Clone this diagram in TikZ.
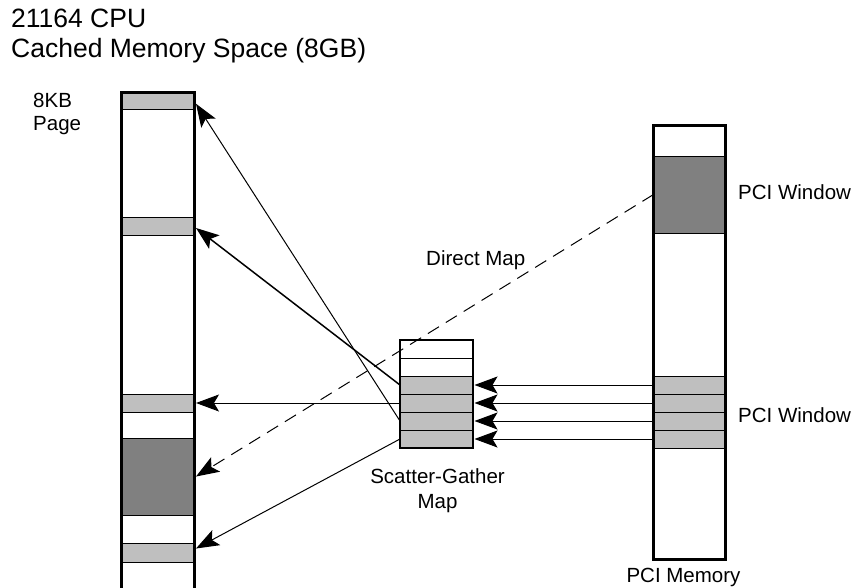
\documentclass[tikz,border=0pt]{standalone}
\usepackage{fontspec}
\setmainfont{Liberation Sans}
\usetikzlibrary{arrows.meta,calc}
\definecolor{lightslot}{gray}{0.75}
\definecolor{darkslot}{gray}{0.5}
\begin{document}
\begin{tikzpicture}[x=1pt,y=-1pt,
  slot/.style={draw=black, line width=0.9pt, fill=lightslot, minimum width=73pt,
    inner sep=0pt, outer sep=0pt, anchor=north west},
  darkblock/.style={slot, fill=darkslot},
  whiterow/.style={slot, fill=white},
  colarea/.style={inner sep=0pt, outer sep=0pt, anchor=north west},
  colline/.style={line width=3pt, line join=miter, line cap=butt},
  sgrow/.style={slot, minimum height=18pt},
  arr/.style={line width=1pt, -{Stealth[length=23pt,width=17pt,inset=5pt]}},
  lbl/.style={font=\fontsize{20.5}{24}\selectfont, inner sep=0pt, anchor=base west},
  lblc/.style={font=\fontsize{20.5}{24}\selectfont, inner sep=0pt, anchor=base},
  ttl/.style={font=\fontsize{26.5}{30}\selectfont, inner sep=0pt, anchor=base west}
]
\useasboundingbox (0,0) rectangle (858,588);
\clip (0,0) rectangle (858,588);

% titles
\node[ttl] (t1) at (11,28) {21164 CPU};
\node[ttl] (t2) at (11,58) {Cached Memory Space (8GB)};
\node[lbl] (kb1) at (33,108) {8KB};
\node[lbl] (kb2) at (33,131) {Page};

% left column (CPU memory)
\node[colarea, minimum width=73pt, minimum height=525pt] (cpu) at (121.5,92.5) {};
\node[slot, minimum height=16.5pt] (s1) at (121.5,92.5) {};
\node[slot, minimum height=18pt] (s2) at (121.5,217) {};
\node[slot, minimum height=18pt] (s3) at (121.5,394) {};
\node[darkblock, minimum height=77pt] (dk) at (121.5,438) {};
\node[slot, minimum height=19pt] (s5) at (121.5,543) {};
\draw[colline] (cpu.south west) |- (cpu.north east) -- (cpu.south east);

% right column (PCI memory)
\node[colarea, minimum width=71.5pt, minimum height=434pt] (pci) at (653.5,125.5) {};
\node[darkblock, minimum width=71.5pt, minimum height=77pt] (pw) at (653.5,156) {};
\node[slot, minimum width=71.5pt, minimum height=18pt] (p1) at (653.5,376) {};
\node[slot, minimum width=71.5pt, minimum height=18pt] (p2) at (653.5,394) {};
\node[slot, minimum width=71.5pt, minimum height=18pt] (p3) at (653.5,412) {};
\node[slot, minimum width=71.5pt, minimum height=18pt] (p4) at (653.5,430) {};
\draw[colline] (pci.north west) rectangle (pci.south east);

\node[lbl] (pwl1) at (738,199) {PCI Window};
\node[lbl] (pwl2) at (738,422) {PCI Window};
\node[lblc] (pml) at (683.5,582) {PCI Memory};

% scatter-gather map
\node[whiterow] (r1) at (400,340) [minimum height=18pt] {};
\node[whiterow] (r2) at (400,358) [minimum height=18pt] {};
\node[sgrow] (r3) at (400,376) {};
\node[sgrow] (r4) at (400,394) {};
\node[sgrow] (r5) at (400,412) {};
\node[sgrow] (r6) at (400,430) {};
\node[colarea, minimum width=73pt, minimum height=108pt] (sg) at (400,340) {};
\draw[line width=2.5pt, line join=miter] (sg.north west) rectangle (sg.south east);

\node[lblc] (sgl1) at (437.5,483) {Scatter-Gather};
\node[lblc] (sgl2) at (437.5,508) {Map};
\node[lbl] (dml) at (426,265) {Direct Map};

% connectors into the CPU space
\draw[arr] (r5.west) -- ($(s1.east)+(1.5,3)$);
\draw[arr, line width=1.5pt] (r3.west) -- ($(s2.east)+(1.5,2)$);
\draw[arr] (r4.west) -- ($(s3.east)+(1.5,0)$);
\draw[arr, dash pattern=on 13pt off 8pt] (pw.west) -- ($(dk.east)+(1.5,0)$);
\draw[arr] (r6.west) -- ($(s5.east)+(1.5,-4)$);

% connectors from PCI window into the map
\draw[arr] (p1.west) -- ($(r3.east)+(1.5,0)$);
\draw[arr] (p2.west) -- ($(r4.east)+(1.5,0)$);
\draw[arr] (p3.west) -- ($(r5.east)+(1.5,0)$);
\draw[arr] (p4.west) -- ($(r6.east)+(1.5,0)$);
\end{tikzpicture}
\end{document}
